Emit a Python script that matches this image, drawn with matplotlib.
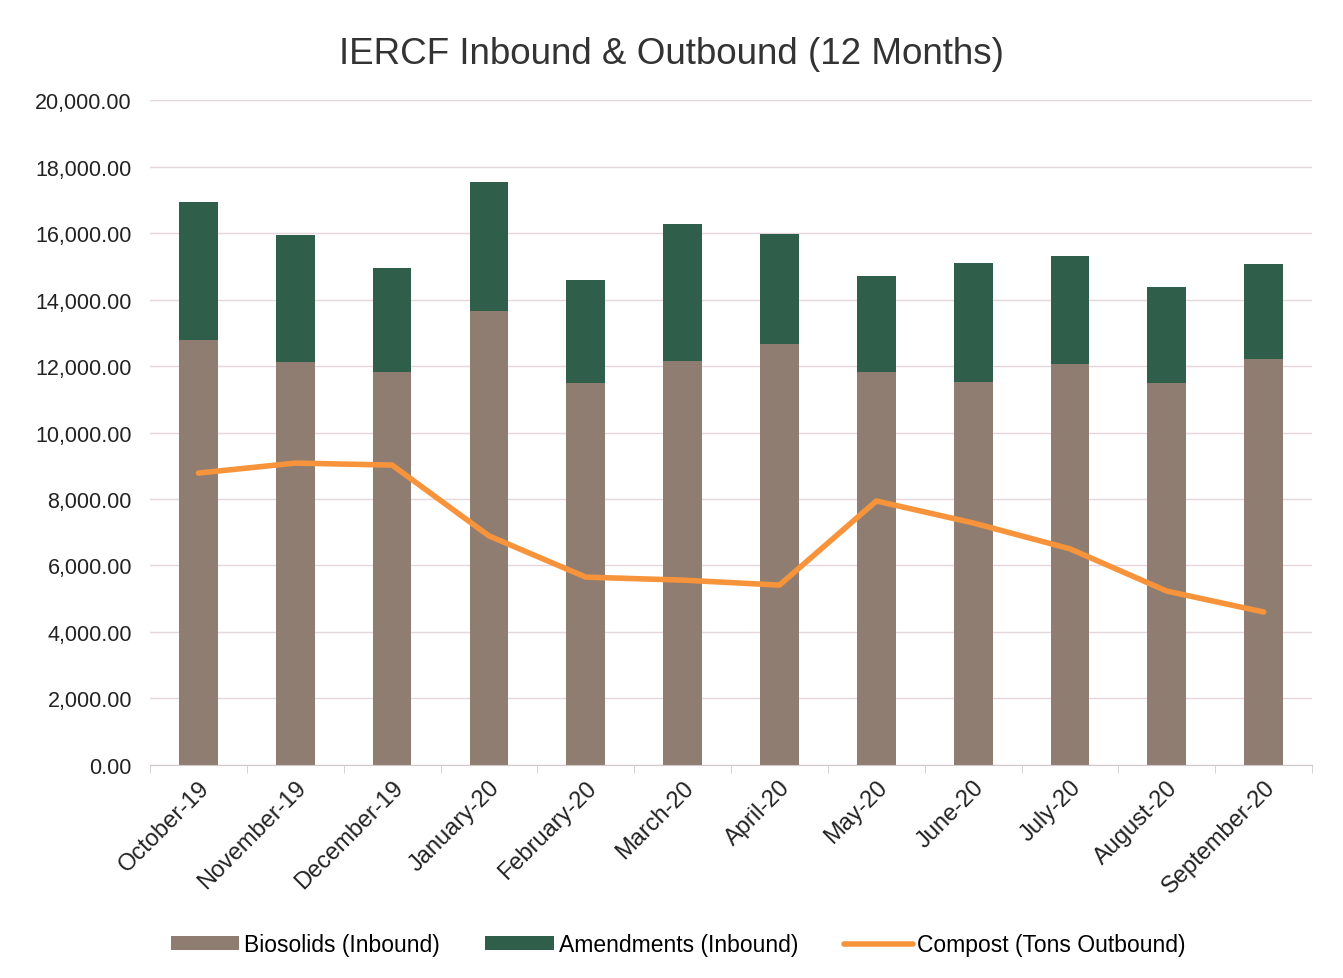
import matplotlib
matplotlib.use("Agg")
import matplotlib.pyplot as plt
import numpy as np
from matplotlib.ticker import FuncFormatter, MultipleLocator

months = ["October-19", "November-19", "December-19", "January-20", "February-20",
          "March-20", "April-20", "May-20", "June-20", "July-20", "August-20", "September-20"]
biosolids = [12780, 12120, 11820, 13650, 11490, 12150, 12660, 11820, 11520, 12060, 11490, 12210]
totals = [16930, 15940, 14950, 17530, 14590, 16270, 15970, 14710, 15100, 15310, 14380, 15070]
amendments = [t - b for t, b in zip(totals, biosolids)]
compost = [8780, 9080, 9020, 6890, 5650, 5560, 5410, 7940, 7280, 6500, 5230, 4600]

plt.rcParams['font.family'] = ['Liberation Sans', 'DejaVu Sans']

fig = plt.figure(figsize=(13.43, 9.79), dpi=100)
ax = fig.add_axes([0.1117, 0.2176, 0.8653, 0.6792])

x = np.arange(len(months))
w = 0.4
b1 = ax.bar(x, biosolids, width=w, color="#8e7d70", label="Biosolids (Inbound)", zorder=2)
b2 = ax.bar(x, amendments, width=w, bottom=biosolids, color="#2f5e4b", label="Amendments (Inbound)", zorder=2)
l1, = ax.plot(x, compost, color="#f7933b", linewidth=4, label="Compost (Tons Outbound)", zorder=3,
              solid_joinstyle="round", solid_capstyle="round")

ax.set_xlim(-0.5, len(months) - 0.5)
ax.set_ylim(0, 20000)
ax.yaxis.set_major_locator(MultipleLocator(2000))
ax.yaxis.set_major_formatter(FuncFormatter(lambda v, p: f"{v:,.2f}"))
ax.grid(axis="y", color="#e6d6de", linewidth=1, zorder=0)
ax.set_axisbelow(True)

ax.set_xticks(x)
ax.set_xticklabels(months, rotation=45, ha="right", rotation_mode="anchor", fontsize=17, color="#222222")
ax.tick_params(axis="x", length=0, pad=8)
ax.set_xticks(np.arange(-0.5, len(months)), minor=True)
ax.tick_params(axis="x", which="minor", length=6, color="#cccccc")
ax.tick_params(axis="y", length=0, labelsize=15.5, labelcolor="#222222", pad=13)

for s in ["top", "right", "left"]:
    ax.spines[s].set_visible(False)
ax.spines["bottom"].set_color("#d0c8cc")

fig.suptitle("IERCF Inbound & Outbound (12 Months)", y=0.962, fontsize=26.5, color="#333333")

fig.legend([b1, b2, l1], [b1.get_label(), b2.get_label(), l1.get_label()],
           loc="center", bbox_to_anchor=(0.505, 0.034), ncol=3, frameon=False,
           fontsize=16.5, handlelength=3.0, handleheight=0.6, columnspacing=2.0, handletextpad=0.2)

fig.savefig("out.png", dpi=100, facecolor="white")
